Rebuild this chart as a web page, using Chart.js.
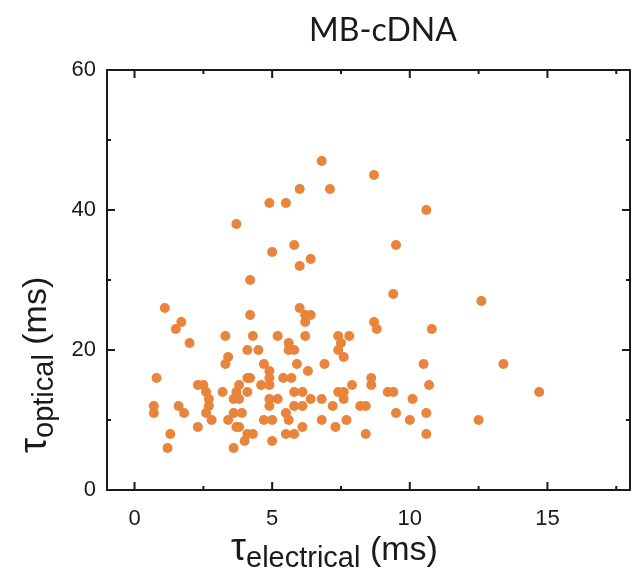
<!DOCTYPE html>
<html>
<head>
<meta charset="utf-8">
<script src="https://cdn.jsdelivr.net/npm/chart.js@4.4.0/dist/chart.umd.min.js"></script>
<style>
  html, body { margin: 0; padding: 0; background: #fff; }
  #wrap { width: 635px; height: 582px; }
</style>
</head>
<body>
<div id="wrap"><canvas id="scatter"></canvas></div>
<script>
// values (ms)
const tauElectrical = [
  6.8, 8.7, 6.0, 7.1, 4.9, 5.5, 10.6, 3.7, 5.8, 9.5, 5.0, 6.4, 6.0, 4.2, 9.4, 12.6,
  1.1, 6.0,
  4.2, 6.2, 6.4,
  1.7, 6.2, 8.7,
  1.5, 8.8, 10.8,
  3.3, 4.3, 5.2, 6.2, 7.4, 7.8,
  2.0, 5.6, 7.5,
  4.1, 4.5, 5.6, 5.8, 7.4,
  3.4, 7.6,
  3.3, 4.7, 5.9, 6.9, 10.5, 13.4,
  4.9, 6.3,
  0.8, 4.1, 4.2, 4.9, 5.4, 5.7, 8.6,
  2.3, 2.5, 3.8, 4.6, 4.9, 7.9, 8.6, 10.7,
  2.6, 3.2, 3.7, 4.1, 5.8, 6.1, 7.4, 7.6, 9.2, 9.4, 14.7,
  2.7, 3.6, 3.8, 4.9, 5.2, 6.4, 6.8, 7.6, 10.1,
  0.7, 1.6, 2.7, 4.9, 5.8, 6.1, 7.2, 8.2, 8.4,
  0.7, 1.8, 2.6, 3.6, 3.9, 5.5, 9.5, 10.6,
  2.8, 3.4, 4.7, 5.0, 5.6, 6.8, 7.7, 10.0, 12.5,
  2.3, 3.7, 3.8, 6.1, 7.3,
  1.3, 4.1, 4.3, 5.5, 5.8, 8.4, 10.6,
  4.0, 5.0,
  1.2, 3.6
];
const tauOptical = [
  47, 45, 43, 43, 41, 41, 40, 38, 35, 35, 34, 33, 32, 30, 28, 27,
  26, 26,
  25, 25, 25,
  24, 24, 24,
  23, 23, 23,
  22, 22, 22, 22, 22, 22,
  21, 21, 21,
  20, 20, 20, 20, 20,
  19, 19,
  18, 18, 18, 18, 18, 18,
  17, 17,
  16, 16, 16, 16, 16, 16, 16,
  15, 15, 15, 15, 15, 15, 15, 15,
  14, 14, 14, 14, 14, 14, 14, 14, 14, 14, 14,
  13, 13, 13, 13, 13, 13, 13, 13, 13,
  12, 12, 12, 12, 12, 12, 12, 12, 12,
  11, 11, 11, 11, 11, 11, 11, 11,
  10, 10, 10, 10, 10, 10, 10, 10, 10,
  9, 9, 9, 9, 9,
  8, 8, 8, 8, 8, 8, 8,
  7, 7,
  6, 6
];

const xMajor = [0, 5, 10, 15];
const xMinor = [2.5, 7.5, 12.5, 17.5];
const yMajor = [0, 20, 40, 60];
const yMinor = [10, 30, 50];

const points = tauElectrical.map((v, i) => ({ x: v, y: tauOptical[i] }));

// box, inward ticks on all sides, title and axis titles with subscripts
const framePlugin = {
  id: 'frame',
  afterDraw(chart) {
    const { ctx, chartArea: a, scales: { x, y } } = chart;
    ctx.save();
    ctx.strokeStyle = '#1a1a1a';
    ctx.lineWidth = 2;
    ctx.strokeRect(a.left, a.top, a.right - a.left, a.bottom - a.top);

    ctx.beginPath();
    const xt = (v, len) => {
      const p = x.getPixelForValue(v);
      ctx.moveTo(p, a.bottom); ctx.lineTo(p, a.bottom - len);
      ctx.moveTo(p, a.top); ctx.lineTo(p, a.top + len);
    };
    const yt = (v, len) => {
      const p = y.getPixelForValue(v);
      ctx.moveTo(a.left, p); ctx.lineTo(a.left + len, p);
      ctx.moveTo(a.right, p); ctx.lineTo(a.right - len, p);
    };
    xMajor.forEach(v => xt(v, 8));
    xMinor.forEach(v => xt(v, 4));
    yMajor.forEach(v => yt(v, 8));
    yMinor.forEach(v => yt(v, 4));
    ctx.stroke();

    ctx.fillStyle = '#1a1a1a';
    ctx.textBaseline = 'alphabetic';
    ctx.textAlign = 'center';
    ctx.font = '32px Lato';
    ctx.fillText('MB-cDNA', 383, 41);

    const parts = [
      { t: 'τ', f: '38px "Liberation Sans"', dy: 0 },
      { t: null, f: '29px "Liberation Sans"', dy: 7 },
      { t: ' (ms)', f: '34px "Liberation Sans"', dy: 0 }
    ];
    const run = (sub, x0, y0) => {
      ctx.textAlign = 'left';
      let cx = x0;
      parts.forEach(p => {
        const txt = p.t === null ? sub : p.t;
        ctx.font = p.f;
        ctx.fillText(txt, cx, y0 + p.dy);
        cx += ctx.measureText(txt).width;
      });
    };
    run('electrical', 231, 560);

    ctx.translate(46, 453);
    ctx.rotate(-Math.PI / 2);
    run('optical', 0, 0);
    ctx.restore();
  }
};

new Chart(document.getElementById('scatter'), {
  type: 'scatter',
  data: {
    datasets: [{
      data: points,
      backgroundColor: '#e8843b',
      borderWidth: 0,
      pointRadius: 5,
      pointHoverRadius: 5
    }]
  },
  options: {
    responsive: true,
    maintainAspectRatio: false,
    animation: false,
    layout: { padding: { left: 0, right: 2, top: 70, bottom: 0 } },
    plugins: {
      legend: { display: false },
      tooltip: { enabled: false }
    },
    scales: {
      x: {
        min: -1, max: 18,
        afterFit: s => { s.height = 92; },
        afterBuildTicks: s => { s.ticks = xMajor.map(v => ({ value: v })); },
        grid: { display: false },
        border: { display: false },
        ticks: { color: '#1a1a1a', padding: 8, font: { family: 'Liberation Sans', size: 22 } }
      },
      y: {
        min: 0, max: 60,
        afterFit: s => { s.width = 107; },
        afterBuildTicks: s => { s.ticks = yMajor.map(v => ({ value: v })); },
        grid: { display: false },
        border: { display: false },
        ticks: { color: '#1a1a1a', padding: 3, font: { family: 'Liberation Sans', size: 22 } }
      }
    }
  },
  plugins: [framePlugin]
});
</script>
</body>
</html>
